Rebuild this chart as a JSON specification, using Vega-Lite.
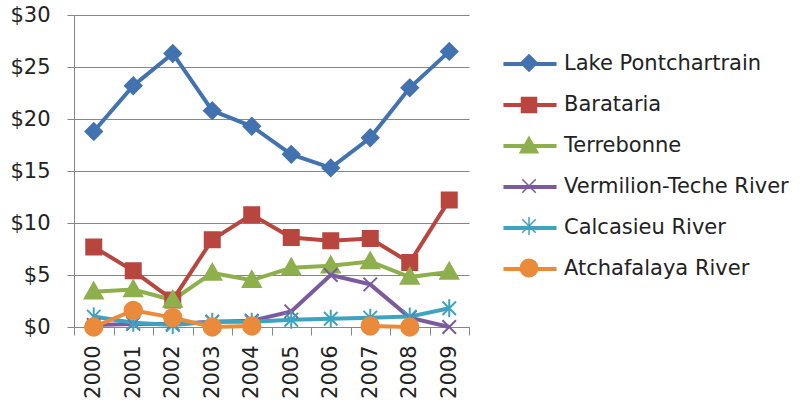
{
  "$schema": "https://vega.github.io/schema/vega-lite/v6.json",
  "width": 395,
  "height": 312,
  "autosize": {"type": "none"},
  "padding": {"left": 74, "top": 15, "right": 334, "bottom": 77},
  "background": "white",
  "config": {"view": {"stroke": null}, "font": "DejaVu Sans"},
  "data": {"values": [
    {"year": "2000", "series": "Lake Pontchartrain", "value": 18.8},
    {"year": "2001", "series": "Lake Pontchartrain", "value": 23.2},
    {"year": "2002", "series": "Lake Pontchartrain", "value": 26.3},
    {"year": "2003", "series": "Lake Pontchartrain", "value": 20.8},
    {"year": "2004", "series": "Lake Pontchartrain", "value": 19.3},
    {"year": "2005", "series": "Lake Pontchartrain", "value": 16.6},
    {"year": "2006", "series": "Lake Pontchartrain", "value": 15.3},
    {"year": "2007", "series": "Lake Pontchartrain", "value": 18.2},
    {"year": "2008", "series": "Lake Pontchartrain", "value": 23.0},
    {"year": "2009", "series": "Lake Pontchartrain", "value": 26.5},
    {"year": "2000", "series": "Barataria", "value": 7.7},
    {"year": "2001", "series": "Barataria", "value": 5.4},
    {"year": "2002", "series": "Barataria", "value": 2.6},
    {"year": "2003", "series": "Barataria", "value": 8.4},
    {"year": "2004", "series": "Barataria", "value": 10.8},
    {"year": "2005", "series": "Barataria", "value": 8.6},
    {"year": "2006", "series": "Barataria", "value": 8.3},
    {"year": "2007", "series": "Barataria", "value": 8.5},
    {"year": "2008", "series": "Barataria", "value": 6.2},
    {"year": "2009", "series": "Barataria", "value": 12.2},
    {"year": "2000", "series": "Terrebonne", "value": 3.4},
    {"year": "2001", "series": "Terrebonne", "value": 3.6},
    {"year": "2002", "series": "Terrebonne", "value": 2.6},
    {"year": "2003", "series": "Terrebonne", "value": 5.2},
    {"year": "2004", "series": "Terrebonne", "value": 4.5},
    {"year": "2005", "series": "Terrebonne", "value": 5.7},
    {"year": "2006", "series": "Terrebonne", "value": 5.9},
    {"year": "2007", "series": "Terrebonne", "value": 6.3},
    {"year": "2008", "series": "Terrebonne", "value": 4.8},
    {"year": "2009", "series": "Terrebonne", "value": 5.3},
    {"year": "2000", "series": "Vermilion-Teche River", "value": 0.2},
    {"year": "2001", "series": "Vermilion-Teche River", "value": 0.3},
    {"year": "2002", "series": "Vermilion-Teche River", "value": 0.3},
    {"year": "2003", "series": "Vermilion-Teche River", "value": 0.5},
    {"year": "2004", "series": "Vermilion-Teche River", "value": 0.6},
    {"year": "2005", "series": "Vermilion-Teche River", "value": 1.5},
    {"year": "2006", "series": "Vermilion-Teche River", "value": 5.0},
    {"year": "2007", "series": "Vermilion-Teche River", "value": 4.1},
    {"year": "2008", "series": "Vermilion-Teche River", "value": 0.9},
    {"year": "2009", "series": "Vermilion-Teche River", "value": 0.0},
    {"year": "2000", "series": "Calcasieu River", "value": 1.0},
    {"year": "2001", "series": "Calcasieu River", "value": 0.4},
    {"year": "2002", "series": "Calcasieu River", "value": 0.2},
    {"year": "2003", "series": "Calcasieu River", "value": 0.5},
    {"year": "2004", "series": "Calcasieu River", "value": 0.5},
    {"year": "2005", "series": "Calcasieu River", "value": 0.7},
    {"year": "2006", "series": "Calcasieu River", "value": 0.8},
    {"year": "2007", "series": "Calcasieu River", "value": 0.9},
    {"year": "2008", "series": "Calcasieu River", "value": 1.0},
    {"year": "2009", "series": "Calcasieu River", "value": 1.8},
    {"year": "2000", "series": "Atchafalaya River", "value": 0.0},
    {"year": "2001", "series": "Atchafalaya River", "value": 1.6},
    {"year": "2002", "series": "Atchafalaya River", "value": 0.9},
    {"year": "2003", "series": "Atchafalaya River", "value": 0.0},
    {"year": "2004", "series": "Atchafalaya River", "value": 0.1},
    {"year": "2005", "series": "Atchafalaya River", "value": null},
    {"year": "2006", "series": "Atchafalaya River", "value": null},
    {"year": "2007", "series": "Atchafalaya River", "value": 0.1},
    {"year": "2008", "series": "Atchafalaya River", "value": 0.0},
    {"year": "2009", "series": "Atchafalaya River", "value": null}
  ]},
  "encoding": {
    "x": {
      "field": "year", "type": "ordinal",
      "scale": {"paddingInner": 0, "paddingOuter": 0},
      "axis": {"title": null, "labelAngle": 270, "tickBand": "extent", "tickSize": 8, "labelPadding": 10,
               "labelFontSize": 21, "labelFont": "DejaVu Sans", "labelColor": "#222222",
               "domainColor": "#868686", "tickColor": "#868686", "grid": false}
    },
    "y": {
      "field": "value", "type": "quantitative",
      "scale": {"domain": [0, 30], "nice": false, "zero": true},
      "axis": {"title": null, "values": [0, 5, 10, 15, 20, 25, 30], "format": "$.0f", "tickSize": 7,
               "labelPadding": 17, "labelFontSize": 21, "labelFont": "DejaVu Sans", "labelColor": "#222222",
               "grid": true, "gridColor": "#868686", "domainColor": "#868686", "tickColor": "#868686"}
    }
  },
  "layer": [
    {
      "mark": {"type": "line", "strokeWidth": 4, "invalid": "break-paths-filter-domains"},
      "encoding": {
        "color": {
          "field": "series", "type": "nominal",
          "scale": {
            "domain": ["Lake Pontchartrain", "Barataria", "Terrebonne", "Vermilion-Teche River", "Calcasieu River", "Atchafalaya River"],
            "range": ["#4272AF", "#B8463F", "#8EB04C", "#7A5C9E", "#3EA3BF", "#EA8A3B"]
          },
          "legend": {
            "title": null, "orient": "none", "legendX": 439, "legendY": 32, "padding": 0,
            "symbolType": "M-1.77,0H1.77", "symbolSize": 900, "symbolStrokeWidth": 4,
            "labelFontSize": 21, "labelFont": "DejaVu Sans", "labelColor": "#222222",
            "labelOffset": 17, "rowPadding": 14, "labelLimit": 400
          }
        }
      }
    },
    {
      "mark": {"type": "point", "filled": true, "size": 900, "strokeWidth": 2, "opacity": 1},
      "encoding": {
        "fill": {
          "field": "series", "type": "nominal", "legend": null,
          "scale": {
            "domain": ["Lake Pontchartrain", "Barataria", "Terrebonne", "Vermilion-Teche River", "Calcasieu River", "Atchafalaya River"],
            "range": ["#4272AF", "#B8463F", "#8EB04C", "#7A5C9E", "#3EA3BF", "#EA8A3B"]
          }
        },
        "stroke": {
          "field": "series", "type": "nominal", "legend": null,
          "scale": {
            "domain": ["Lake Pontchartrain", "Barataria", "Terrebonne", "Vermilion-Teche River", "Calcasieu River", "Atchafalaya River"],
            "range": ["#4272AF", "#B8463F", "#8EB04C", "#7A5C9E", "#3EA3BF", "#EA8A3B"]
          }
        },
        "shape": {
          "field": "series", "type": "nominal",
          "scale": {
            "domain": ["Lake Pontchartrain", "Barataria", "Terrebonne", "Vermilion-Teche River", "Calcasieu River", "Atchafalaya River", "~"],
            "range": [
              "M0,-0.55L0.55,0L0,0.55L-0.55,0Z",
              "M-0.5,-0.5H0.5V0.5H-0.5Z",
              "M0,-0.6L0.6,0.45L-0.6,0.45Z",
              "M-0.45,-0.45L0.45,0.45M-0.45,0.45L0.45,-0.45",
              "M-0.45,-0.45L0.45,0.45M-0.45,0.45L0.45,-0.45M0,-0.6V0.6",
              "M-0.58,0A0.58,0.58 0 1,0 0.58,0A0.58,0.58 0 1,0 -0.58,0Z",
              "circle"
            ]
          },
          "legend": {
            "title": null, "orient": "none", "legendX": 439, "legendY": 32, "padding": 0,
            "values": ["Lake Pontchartrain", "Barataria", "Terrebonne", "Vermilion-Teche River", "Calcasieu River", "Atchafalaya River"],
            "symbolSize": 900, "symbolStrokeWidth": 1.5, "symbolOpacity": 1,
            "symbolFillColor": {"expr": "datum.value == 'Lake Pontchartrain' ? '#4272AF' : datum.value == 'Barataria' ? '#B8463F' : datum.value == 'Terrebonne' ? '#8EB04C' : datum.value == 'Vermilion-Teche River' ? '#7A5C9E' : datum.value == 'Calcasieu River' ? '#3EA3BF' : '#EA8A3B'"},
            "symbolStrokeColor": {"expr": "datum.value == 'Lake Pontchartrain' ? '#4272AF' : datum.value == 'Barataria' ? '#B8463F' : datum.value == 'Terrebonne' ? '#8EB04C' : datum.value == 'Vermilion-Teche River' ? '#7A5C9E' : datum.value == 'Calcasieu River' ? '#3EA3BF' : '#EA8A3B'"},
            "labelFontSize": 21, "labelFont": "DejaVu Sans", "labelOpacity": 0,
            "labelOffset": 17, "rowPadding": 14, "labelLimit": 400
          }
        }
      }
    }
  ]
}
